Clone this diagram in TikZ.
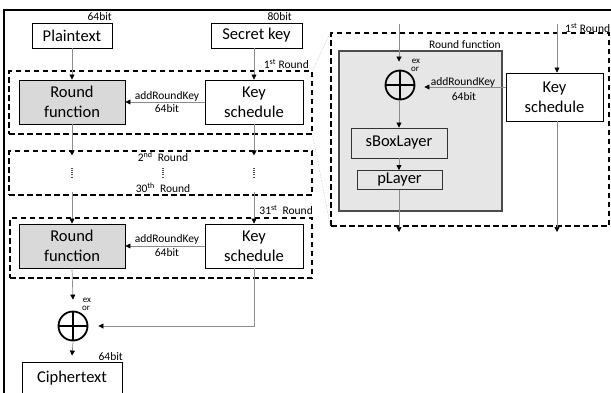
\documentclass[tikz,border=0pt]{standalone}
\usepackage{fontspec}
\setmainfont{Carlito}
\usetikzlibrary{arrows.meta,calc}
\definecolor{rfgray}{HTML}{D9D9D9}
\definecolor{biggray}{HTML}{E6E6E6}
\definecolor{linegray}{HTML}{8C8C8C}
\begin{document}
\begin{tikzpicture}[x=1pt,y=-1pt,
  bigfont/.style={font=\fontsize{16.5}{20}\selectfont},
  smallfont/.style={font=\fontsize{11.5}{12}\selectfont},
  tinyfont/.style={font=\fontsize{9}{9}\selectfont},
  box/.style={draw=black,line width=0.9pt,inner sep=0pt,align=center,bigfont},
  rfbox/.style={box,fill=rfgray},
  dashbox/.style={draw=black,line width=1.1pt,dash pattern=on 5.5pt off 3.5pt,inner sep=0pt},
  xorc/.style={circle,draw=black,line width=1.8pt,minimum size=29pt,inner sep=0pt,
    path picture={\draw[black,line width=1.6pt] (path picture bounding box.north) -- (path picture bounding box.south)
      (path picture bounding box.west) -- (path picture bounding box.east);}},
  arr/.style={draw=linegray,line width=0.7pt,-{Triangle[length=5pt,width=5pt,color=black]}},
  ln/.style={draw=linegray,line width=0.7pt},
  zoomln/.style={draw=gray!60,line width=0.5pt,densely dotted},
  lbl/.style={smallfont,inner sep=0pt}
]
\useasboundingbox (0,0) rectangle (611,392);
% frame
\draw[line width=1.8pt] (4,393) -- (4,10) -- (611,10);

% dashed round boxes
\node[dashbox,minimum width=303pt,minimum height=63pt] (d1) at (160.5,102.5) {};
\node[dashbox,minimum width=303pt,minimum height=44pt] (d2) at (160.5,173) {};
\node[dashbox,minimum width=302pt,minimum height=60pt] (d3) at (161,248) {};

% left column boxes
\node[box,minimum width=80pt,minimum height=25pt] (pt) at (72,35.5) {Plaintext};
\node[box,minimum width=91pt,minimum height=25pt] (sk) at (256.5,35.5) {Secret key};
\node[rfbox,minimum width=106pt,minimum height=44pt] (rf1) at (72,102) {Round\\function};
\node[box,minimum width=98pt,minimum height=44pt] (ks1) at (254,102) {Key\\schedule};
\node[rfbox,minimum width=106pt,minimum height=44pt] (rf2) at (72,246) {Round\\function};
\node[box,minimum width=98pt,minimum height=44pt] (ks2) at (254,246) {Key\\schedule};
\node[xorc] (x1) at (73,326) {};
\node[box,minimum width=100pt,minimum height=32pt] (ct) at (72,378) {Ciphertext};

% labels left
\node[lbl,anchor=east] at (112,17) {64bit};
\node[lbl,anchor=east] at (292,17) {80bit};
\node[lbl,anchor=east] at (123,357) {64bit};
\node[lbl,anchor=east] at (309,64) {1\textsuperscript{st} Round};
\node[lbl,anchor=east] at (313,210) {31\textsuperscript{st}\ \ Round};
\node[lbl] at (163,157) {2\textsuperscript{nd}\ \ Round};
\node[lbl] at (163,188) {30\textsuperscript{th}\ \ Round};
\node[lbl] at (167,96) {addRoundKey};
\node[lbl] at (167,109) {64bit};
\node[lbl] at (167,239.5) {addRoundKey};
\node[lbl] at (167,252.5) {64bit};
\node[tinyfont,inner sep=0pt] at (87,300) {ex};
\node[tinyfont,inner sep=0pt] at (86,308) {or};

% vertical dots
\foreach \xx in {72,163,254}
  \draw[black!70,line width=1.1pt,dash pattern=on 1pt off 1.3pt] (\xx,167.5) -- (\xx,178);

% left connectors
\draw[arr] (pt.south) -- (rf1.north);
\draw[arr] (sk.south -| ks1.north) -- (ks1.north);
\draw[arr] (ks1.west) -- (rf1.east);
\draw[arr] (rf1.south) -- ($(rf1.south |- d2.north)+(0,5)$);
\draw[arr] (ks1.south) -- ($(ks1.south |- d2.north)+(0,5)$);
\draw[arr] ($(rf2.north |- d2.south)+(0,-4)$) -- (rf2.north);
\draw[arr] ($(ks2.north |- d2.south)+(0,-4)$) -- (ks2.north);
\draw[arr] (ks2.west) -- (rf2.east);
\draw[arr] (rf2.south) -- ($(x1.north)+(0,-11)$);
\coordinate (kscorner) at (ks2.south |- x1.center);
\draw[arr] (ks2.south) -- (kscorner) -- ($(x1.east)+(10,0)$);
\draw[arr] ($(x1.south)+(0,1)$) -- ($(ct.north)+(0,-6)$);

% zoom lines
\node[draw=black!70,line width=1.3pt,fill=biggray,minimum width=163pt,minimum height=160pt,inner sep=0pt] (bg) at (420.5,131) {};
\node[dashbox,minimum width=278pt,minimum height=193pt] (big) at (470,129.5) {};
\draw[zoomln] (d1.north east) -- (big.north west);
\draw[zoomln] (d1.south east) -- (big.south west);

% right detail
\node[xorc] (x2) at (400,85) {};
\node[box,minimum width=97pt,minimum height=48pt,fill=white] (ks3) at (554.5,97) {Key\\schedule};
\node[box,minimum width=96pt,minimum height=30pt,draw=black!80] (sb) at (399,143) {sBoxLayer};
\node[box,minimum width=85pt,minimum height=19pt,draw=black!80] (pl) at (399.5,180) {pLayer};
\node[lbl,anchor=east] at (501,45) {Round function};
\node[lbl,anchor=west] at (565,28) {1\textsuperscript{st} Round};
\node[lbl] at (463,82) {addRoundKey};
\node[lbl] at (464,97) {64bit};
\node[tinyfont,inner sep=0pt] at (416,61) {ex};
\node[tinyfont,inner sep=0pt] at (415,69) {or};

\coordinate (topA) at (399,24);
\coordinate (topB) at (557,24);
\coordinate (botA) at (399,232);
\coordinate (botB) at (557,232);
\draw[arr] (topA) -- ($(x2.north)+(-1,-8)$);
\draw[arr] (topB) -- (topB |- ks3.north);
\draw[arr] (ks3.west |- 0,87) -- ($(x2.east)+(9,2)$);
\draw[arr] ($(x2.south)+(-1,0)$) -- (sb.north -| topA);
\draw[arr] (sb.south) -- (pl.north -| sb.south);
\draw[arr] (pl.south -| topA) -- (botA);
\draw[arr] (ks3.south -| topB) -- (botB);
\end{tikzpicture}
\end{document}
